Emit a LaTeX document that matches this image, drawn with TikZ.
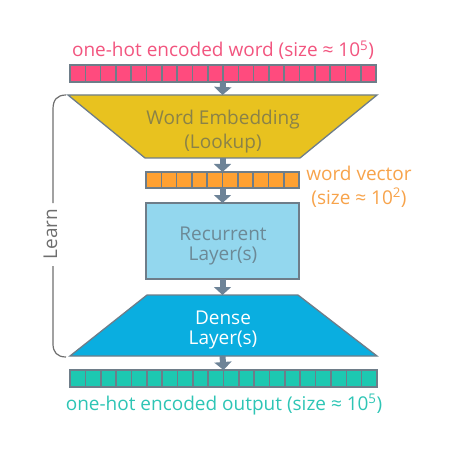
\documentclass[tikz,border=0pt]{standalone}
\usepackage{fontspec}
\setmainfont{Open Sans}
\usetikzlibrary{arrows.meta}
\definecolor{edgec}{HTML}{6E7D89}
\definecolor{arrowc}{HTML}{6D8397}
\definecolor{pinkf}{HTML}{FF4B7E}
\definecolor{pinkt}{HTML}{F2557F}
\definecolor{yellowf}{HTML}{E8C21F}
\definecolor{orangef}{HTML}{FFA132}
\definecolor{oranget}{HTML}{F7A34B}
\definecolor{lbluef}{HTML}{93D7EE}
\definecolor{bluef}{HTML}{0AAEE0}
\definecolor{tealf}{HTML}{1DC8B1}
\definecolor{tealt}{HTML}{2EC5B5}
\definecolor{embtextc}{HTML}{8A8248}
\definecolor{rectextc}{HTML}{6C8996}
\definecolor{learnc}{HTML}{6E6E6E}
\begin{document}
\begin{tikzpicture}[x=1pt,y=-1pt,
  txt/.style={font=\fontsize{19}{24}\selectfont, inner sep=0pt, outer sep=0pt},
  txttight/.style={font=\fontsize{19}{20}\selectfont, inner sep=0pt, outer sep=0pt},
  bar/.style={draw=edgec, line width=1.5pt, minimum height=17pt, inner sep=0pt, outer sep=0pt},
  cellsep/.style={edgec, line width=1.6pt},
  trap/.style={draw=edgec, line width=1.3pt, line join=miter},
  flow/.style={arrowc, line width=6pt, -{Triangle[width=17pt,length=8pt]}},
  learnline/.style={learnc, line width=1.2pt}
]
\useasboundingbox (0,0) rectangle (460,470);

% input text and bar
\node (intxt) [txt, text=pinkt, anchor=base] at (223,57) {one-hot encoded word (size ≈ 10\textsuperscript{5})};
\node (inbar) [bar, fill=pinkf, minimum width=306pt, anchor=north west] at (70,65) {};
\foreach \i in {1,...,19} \draw[cellsep] ([xshift=\i*15.3pt]inbar.north west) -- ([xshift=\i*15.3pt]inbar.south west);

% embedding
\draw[trap, fill=yellowf] (68,95) -- (377,95) -- (300,158) -- (145,158) -- cycle;
\coordinate (embtop) at (222.5,95);
\coordinate (embbot) at (222.5,158);
\node (embtxt) [txt, text=embtextc, align=center] at (223,131.3) {Word Embedding\\(Lookup)};

% word vector
\node (vecbar) [bar, fill=orangef, minimum width=153pt, minimum height=16pt, anchor=north west] at (146,172) {};
\foreach \i in {1,...,9} \draw[cellsep] ([xshift=\i*15.3pt]vecbar.north west) -- ([xshift=\i*15.3pt]vecbar.south west);
\node (vectxt) [txt, text=oranget, align=center] at (359,186.5) {word vector\\(size ≈ 10\textsuperscript{2})};

% recurrent
\node (rec) [draw=edgec, line width=1.8pt, fill=lbluef, minimum width=153pt, minimum height=76pt, inner sep=0pt, outer sep=0pt] at (222.5,241) {};
\node (rectxt) [txttight, text=rectextc, align=center] at (223,245.5) {Recurrent\\Layer(s)};

% dense
\draw[trap, fill=bluef] (147,295) -- (298,295) -- (377,356) -- (70,356) -- cycle;
\coordinate (densetop) at (222.5,295);
\coordinate (densebot) at (222.5,356);
\node (densetxt) [txttight, text=white, align=center] at (223,330) {Dense\\Layer(s)};

% output bar and text
\node (outbar) [bar, fill=tealf, minimum width=307pt, anchor=north west] at (70,370) {};
\foreach \i in {1,...,19} \draw[cellsep] ([xshift=\i*15.35pt]outbar.north west) -- ([xshift=\i*15.35pt]outbar.south west);
\node (outtxt) [txt, text=tealt, anchor=base] at (224,410) {one-hot encoded output (size ≈ 10\textsuperscript{5})};

% arrows
\draw[flow] (inbar.south) -- (embtop);
\draw[flow] (embbot) -- (vecbar.north);
\draw[flow] (vecbar.south) -- (rec.north);
\draw[flow] (rec.south) -- (densetop);
\draw[flow] (densebot) -- (outbar.north);

% learn bracket
\node (learn) [txt, text=learnc, rotate=90] at (50.5,234) {Learn};
\draw[learnline] (66,95) .. controls (57,95) and (53,100) .. (53,109) -- (53,203);
\draw[learnline] (53,266) -- (53,344) .. controls (53,352) and (57,357) .. (66,357);
\end{tikzpicture}
\end{document}
